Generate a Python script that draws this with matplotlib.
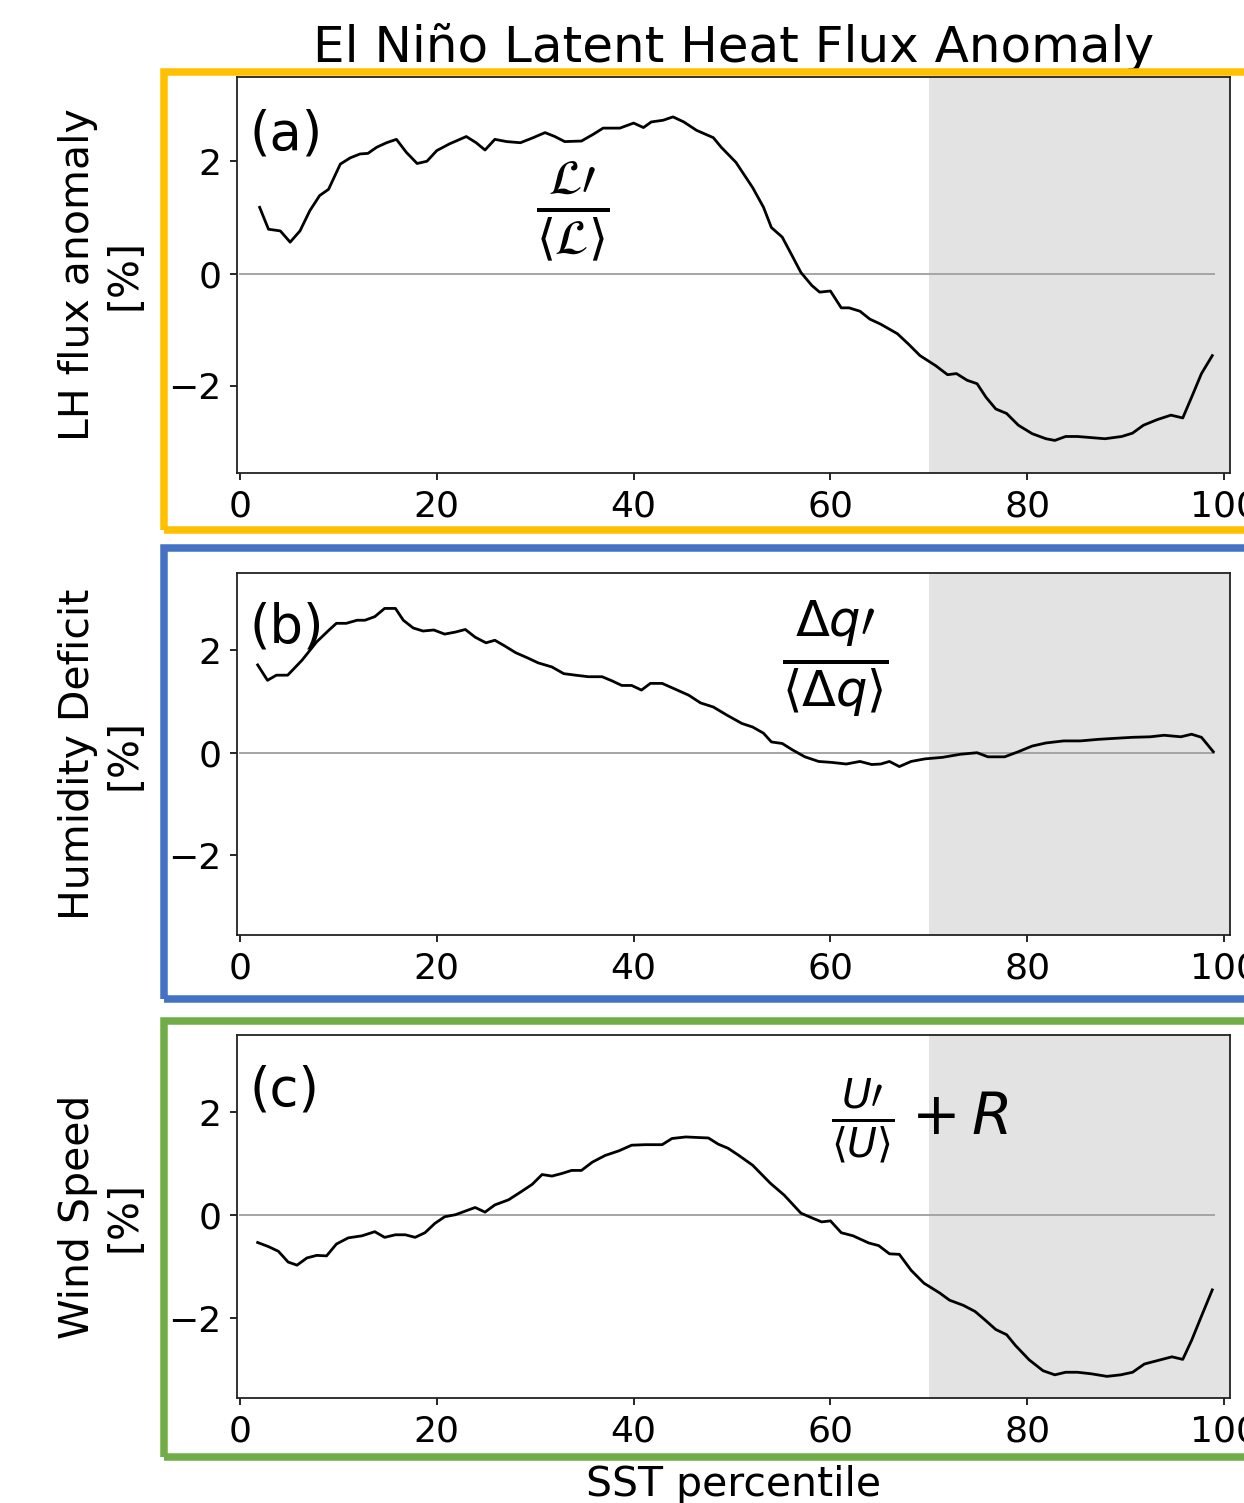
import numpy as np
import matplotlib
matplotlib.use("Agg")
import matplotlib.pyplot as plt
from matplotlib.patches import Rectangle

# SST percentile positions and anomalies [%]
pct_a = [2.0, 2.9, 4.1, 5.1, 6.1, 7.1, 8.1, 9.0, 10.2, 11.2, 12.2, 13.0, 13.9, 14.9, 15.9,
         16.9, 18.0, 19.0, 20.0, 21.3, 23.0, 24.0, 24.9, 25.9, 27.1, 28.5, 29.8, 31.0, 32.0,
         33.0, 34.7, 35.9, 36.9, 38.6, 40.0, 41.0, 41.8, 43.0, 44.0, 45.1, 46.4, 48.1, 48.9,
         50.4, 52.1, 53.2, 54.0, 55.1, 56.1, 57.0, 58.1, 58.9, 60.0, 61.1, 61.9, 63.0, 64.0,
         65.1, 66.8, 67.9, 69.1, 70.7, 71.9, 72.8, 73.9, 74.9, 75.8, 76.8, 77.9, 79.1, 80.5,
         81.9, 82.8, 83.9, 85.1, 86.5, 87.9, 89.6, 90.7, 91.8, 93.2, 94.6, 95.8, 96.7, 97.7,
         98.8]
lh_flux = [1.18, 0.79, 0.76, 0.56, 0.76, 1.12, 1.39, 1.5, 1.95, 2.06, 2.13, 2.14, 2.25, 2.33,
           2.39, 2.16, 1.96, 2.0, 2.19, 2.31, 2.44, 2.33, 2.2, 2.39, 2.35, 2.33, 2.42, 2.51,
           2.44, 2.35, 2.36, 2.48, 2.59, 2.59, 2.68, 2.6, 2.7, 2.73, 2.79, 2.7, 2.55, 2.42,
           2.25, 1.98, 1.53, 1.18, 0.82, 0.65, 0.32, 0.02, -0.21, -0.33, -0.31, -0.61, -0.61,
           -0.67, -0.81, -0.9, -1.07, -1.25, -1.46, -1.64, -1.8, -1.78, -1.9, -1.96, -2.2,
           -2.41, -2.49, -2.7, -2.85, -2.94, -2.97, -2.9, -2.9, -2.92, -2.94, -2.9, -2.84,
           -2.7, -2.6, -2.52, -2.57, -2.2, -1.78, -1.46]

pct_b = [1.8, 2.8, 3.7, 4.85, 6.3, 7.8, 9.0, 9.8, 10.8, 11.9, 12.7, 13.7, 14.7, 15.8, 16.6,
         17.6, 18.6, 19.7, 20.8, 21.9, 22.9, 23.9, 25.0, 25.9, 26.9, 28.0, 29.3, 30.3, 31.7,
         32.9, 34.1, 35.4, 36.8, 37.8, 38.8, 39.8, 40.8, 41.7, 42.9, 44.2, 45.6, 46.8, 48.1,
         49.5, 51.0, 52.1, 53.2, 54.0, 55.1, 56.1, 57.4, 58.8, 60.2, 61.6, 63.0, 64.2, 65.1,
         66.0, 67.0, 68.2, 69.6, 71.4, 73.2, 74.9, 76.0, 77.7, 79.1, 80.5, 81.9, 83.7, 85.4,
         87.2, 88.9, 90.7, 92.5, 93.9, 95.6, 96.7, 97.7, 98.9]
hum_deficit = [1.71, 1.41, 1.51, 1.51, 1.8, 2.16, 2.38, 2.52, 2.52, 2.58, 2.58, 2.65, 2.81,
               2.81, 2.58, 2.43, 2.37, 2.39, 2.31, 2.35, 2.4, 2.25, 2.14, 2.19, 2.08, 1.95,
               1.84, 1.75, 1.67, 1.54, 1.51, 1.48, 1.48, 1.4, 1.31, 1.31, 1.22, 1.35, 1.35,
               1.24, 1.12, 0.97, 0.89, 0.73, 0.57, 0.5, 0.38, 0.21, 0.18, 0.06, -0.08, -0.17,
               -0.19, -0.22, -0.17, -0.23, -0.22, -0.17, -0.27, -0.17, -0.12, -0.09, -0.03,
               0.0, -0.08, -0.08, 0.02, 0.13, 0.19, 0.23, 0.23, 0.26, 0.28, 0.3, 0.31, 0.34,
               0.31, 0.36, 0.3, 0.02]

pct_c = [1.8, 2.9, 3.9, 4.9, 5.8, 6.8, 7.8, 8.8, 9.8, 11.0, 12.4, 13.7, 14.7, 15.8, 16.8,
         17.8, 18.8, 19.8, 20.8, 21.9, 22.9, 23.9, 24.9, 25.9, 27.3, 28.6, 29.7, 30.7, 31.7,
         32.7, 33.7, 34.7, 35.8, 37.1, 38.5, 39.8, 41.2, 42.9, 43.9, 45.3, 47.6, 48.6, 49.6,
         50.7, 52.1, 53.9, 55.3, 57.0, 58.1, 59.1, 60.0, 61.1, 62.3, 63.9, 64.9, 66.0, 67.0,
         68.2, 69.5, 71.1, 72.1, 73.5, 74.7, 75.8, 76.8, 77.9, 78.8, 80.2, 81.6, 82.8, 83.9,
         85.1, 86.5, 88.1, 89.5, 90.7, 91.9, 93.5, 94.7, 95.8, 96.7, 97.7, 98.8]
wind_speed = [-0.53, -0.61, -0.7, -0.91, -0.97, -0.83, -0.78, -0.79, -0.56, -0.44, -0.4,
              -0.32, -0.43, -0.38, -0.38, -0.43, -0.34, -0.16, -0.03, 0.01, 0.08, 0.15, 0.06,
              0.2, 0.3, 0.46, 0.6, 0.79, 0.76, 0.81, 0.87, 0.87, 1.03, 1.16, 1.25, 1.36, 1.37,
              1.37, 1.49, 1.52, 1.5, 1.38, 1.3, 1.16, 0.97, 0.62, 0.39, 0.04, -0.05, -0.13,
              -0.11, -0.34, -0.4, -0.54, -0.59, -0.75, -0.76, -1.07, -1.32, -1.51, -1.65,
              -1.75, -1.87, -2.05, -2.22, -2.32, -2.53, -2.81, -3.02, -3.1, -3.05, -3.05,
              -3.08, -3.13, -3.1, -3.05, -2.89, -2.81, -2.75, -2.8, -2.43, -1.96, -1.45]

zero_x = [0, 99]
shade_start = 70
ylabels = ["LH flux anomaly\n[%]", "Humidity Deficit\n[%]", "Wind Speed\n[%]"]
panel_tags = ["(a)", "(b)", "(c)"]

fig = plt.figure(figsize=(12.44, 15.03), dpi=100)

L, W = 237 / 1244, 993 / 1244
H = 1503
axes_px = [(77, 473), (573, 935), (1035, 1398)]
axs = [fig.add_axes([L, 1 - b / H, W, (b - t) / H]) for t, b in axes_px]

series = [(pct_a, lh_flux), (pct_b, hum_deficit), (pct_c, wind_speed)]
xlo, xhi = -0.3, 100.6
for ax, (x, y), lab, tag in zip(axs, series, ylabels, panel_tags):
    ax.set_xlim(xlo, xhi)
    ax.set_ylim(-3.55, 3.5)
    ax.axvspan(shade_start, xhi, color="#e3e3e3", lw=0, zorder=0)
    ax.plot(zero_x, [0, 0], color="#a5a5a5", lw=1.4, zorder=1)
    ax.plot(x, y, color="black", lw=2.0, zorder=2)
    ax.set_xticks([0, 20, 40, 60, 80, 100])
    ax.set_yticks([-2, 0, 2])
    ax.tick_params(labelsize=26, length=5, width=1.2, direction="out")
    ax.tick_params(axis="x", pad=7)
    ax.tick_params(axis="y", pad=6)
    for s in ax.spines.values():
        s.set_linewidth(1.3)
        s.set_color("#222222")
    ax.set_ylabel(lab, fontsize=29.5)
    ax.yaxis.set_label_coords(-0.093, 0.5)
    ax.text(0.013, 0.92, tag, transform=ax.transAxes, fontsize=38, va="top", ha="left")

axs[0].set_title("El Niño Latent Heat Flux Anomaly", fontsize=36, pad=11)
axs[0].text(33.8, 1.1, r"$\frac{\mathcal{L}\prime}{\langle\mathcal{L}\rangle}$",
            fontsize=50, ha="center", va="center")
axs[1].text(60.5, 1.83, r"$\frac{\Delta q\prime}{\langle\Delta q\rangle}$",
            fontsize=51, ha="center", va="center")
axs[2].text(69.1, 1.83, r"$\frac{U\prime}{\langle U\rangle}+R$",
            fontsize=42, ha="center", va="center")
axs[2].set_xlabel("SST percentile", fontsize=29.5)
axs[2].xaxis.set_label_coords(0.5, -0.185)

# coloured frames around the panels (pixel boxes: left, top, bottom)
frames = [("#FFC000", 71.5, 530), ("#4472C4", 547.5, 999), ("#70AD47", 1021, 1457)]
for col, top, bot in frames:
    fig.patches.append(Rectangle((164 / 1244, 1 - bot / H), 1.2, (bot - top) / H,
                                 transform=fig.transFigure, fill=False,
                                 edgecolor=col, lw=5.4, clip_on=False))

fig.savefig("out.png", dpi=100)
